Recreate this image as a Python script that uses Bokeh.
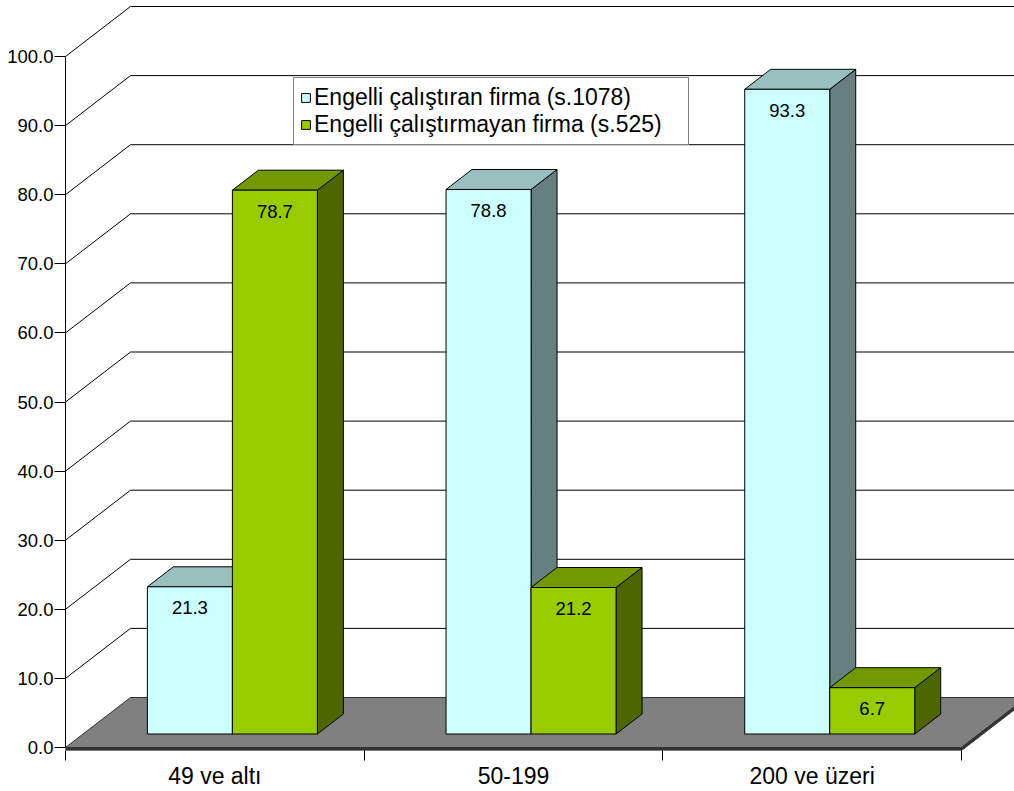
from bokeh.plotting import figure
from bokeh.models import FixedTicker, PrintfTickFormatter, Legend, LegendItem, Range1d
from bokeh.core.properties import value
from bokeh.embed import file_html
from bokeh.resources import INLINE

# ---------------- data ----------------
categories = ["49 ve altı", "50-199", "200 ve üzeri"]
series_names = ["Engelli çalıştıran firma (s.1078)", "Engelli çalıştırmayan firma (s.525)"]
employing = [21.3, 78.8, 93.3]
not_employing = [78.7, 21.2, 6.7]
y_ticks = [0, 10, 20, 30, 40, 50, 60, 70, 80, 90, 100]

# ---------------- layout / style ----------------
W, H = 1014, 791
BORDER_LEFT, BORDER_BOTTOM = 65, 41
PX_PER_CAT = 298.67
PX_PER_UNIT = 6.91
ZERO_ABOVE_BOTTOM_PX = 3
DX = 65 / PX_PER_CAT          # depth offset (x, category units)
DY = 50 / PX_PER_UNIT         # depth offset (y, value units)
BAR_W = 85 / PX_PER_CAT
D_FRONT, D_BACK = 0.27, 0.67
FLOOR_T = 3 / PX_PER_UNIT
FONT = "Liberation Sans"

colors = [
    dict(front="#CCFFFF", top="#99BFBF", side="#668080"),
    dict(front="#99CC00", top="#739900", side="#4D6600"),
]


def proj(c, d, v):
    return c + d * DX, v + d * DY


def poly(points):
    xs, ys = zip(*[proj(*pt) for pt in points])
    return list(xs), list(ys)


n = len(categories)
y_start = -ZERO_ABOVE_BOTTOM_PX / PX_PER_UNIT
y_end = y_start + (H - BORDER_BOTTOM) / PX_PER_UNIT
x_end = (W - BORDER_LEFT) / PX_PER_CAT

p = figure(width=W, height=H, output_backend="svg", toolbar_location=None,
           x_range=Range1d(0, x_end), y_range=Range1d(y_start, y_end),
           min_border_left=BORDER_LEFT, min_border_right=0, min_border_top=0,
           min_border_bottom=BORDER_BOTTOM)
p.outline_line_color = None
p.xgrid.visible = False
p.ygrid.visible = False
p.background_fill_color = "white"
p.border_fill_color = "white"

# ---- gridlines: left wall diagonals + back wall horizontals ----
gx, gy = [], []
for v in y_ticks[1:]:
    xs, ys = poly([(0, 0, v), (0, 1, v), (n, 1, v)])
    gx.append(xs)
    gy.append(ys)
p.multi_line(gx, gy, line_color="black", line_width=1)

# ---- floor ----
fx, fy = poly([(0, 0, 0), (n, 0, 0), (n, 1, 0), (0, 1, 0)])
p.patch(fx, fy, fill_color="#808080", line_color="#333333", line_width=1)
sx, sy = poly([(0, 0, 0), (n, 0, 0), (n, 0, -FLOOR_T), (0, 0, -FLOOR_T)])
p.patch(sx, sy, fill_color="#333333", line_color="#333333", line_width=1)
rx, ry = poly([(n, 0, 0), (n, 1, 0), (n, 1, -FLOOR_T), (n, 0, -FLOOR_T)])
p.patch(rx, ry, fill_color="#333333", line_color="#333333", line_width=1)

# ---- bars ----
fronts = []
label_x, label_y, label_t = [], [], []
for si, vals in enumerate([employing, not_employing]):
    col = colors[si]
    side_xs, side_ys, top_xs, top_ys = [], [], [], []
    ql, qr, qb, qt = [], [], [], []
    for ci, v in enumerate(vals):
        left = ci + 0.5 - BAR_W + si * BAR_W
        right = left + BAR_W
        xs, ys = poly([(right, D_FRONT, 0), (right, D_BACK, 0), (right, D_BACK, v), (right, D_FRONT, v)])
        side_xs.append(xs); side_ys.append(ys)
        xs, ys = poly([(left, D_FRONT, v), (right, D_FRONT, v), (right, D_BACK, v), (left, D_BACK, v)])
        top_xs.append(xs); top_ys.append(ys)
        l, b = proj(left, D_FRONT, 0)
        r, t = proj(right, D_FRONT, v)
        ql.append(l); qr.append(r); qb.append(b); qt.append(t)
        label_x.append((l + r) / 2)
        label_y.append(t - 21 / PX_PER_UNIT)
        label_t.append(f"{v:.1f}")
    p.patches(side_xs, side_ys, fill_color=col["side"], line_color="black", line_width=1)
    p.patches(top_xs, top_ys, fill_color=col["top"], line_color="black", line_width=1)
    fr = p.quad(left=ql, right=qr, bottom=qb, top=qt, fill_color=col["front"],
                line_color="black", line_width=1)
    fronts.append(fr)

p.text(x=label_x, y=label_y, text=label_t, text_align="center", text_baseline="middle",
       text_font=value(FONT), text_font_size="18.5px", text_color="black")

# ---- axes ----
ya = p.yaxis[0]
ya.ticker = FixedTicker(ticks=y_ticks)
ya.formatter = PrintfTickFormatter(format="%.1f")
ya.bounds = (0, 100)
ya.major_tick_out = 11
ya.major_tick_in = 0
ya.minor_tick_out = 0
ya.minor_tick_in = 0
ya.major_label_standoff = 1
ya.major_label_text_font = FONT
ya.major_label_text_font_size = "18.5px"
ya.major_label_text_color = "black"
ya.axis_line_color = "black"
ya.major_tick_line_color = "black"

xa = p.xaxis[0]
xa.ticker = FixedTicker(ticks=[i + 0.5 for i in range(n)], minor_ticks=list(range(n + 1)))
xa.major_label_overrides = {i + 0.5: c for i, c in enumerate(categories)}
xa.major_tick_out = 0
xa.major_tick_in = 0
xa.minor_tick_out = 10
xa.minor_tick_in = 0
xa.minor_tick_line_color = "black"
xa.axis_line_color = None
xa.major_label_standoff = 2
xa.major_label_text_font = FONT
xa.major_label_text_font_size = "23px"
xa.major_label_text_color = "black"

# ---- legend ----
legend = Legend(items=[LegendItem(label=series_names[i], renderers=[fronts[i]]) for i in range(2)],
                location=(228, 605))
legend.label_text_font = FONT
legend.label_text_font_size = "23px"
legend.label_text_color = "black"
legend.glyph_width = 11
legend.glyph_height = 11
legend.label_standoff = 3
legend.label_height = 24
legend.label_width = 368
legend.padding = 6
legend.spacing = 0
legend.margin = 0
legend.border_line_color = "black"
legend.border_line_width = 1
legend.background_fill_color = "white"
legend.background_fill_alpha = 1
p.add_layout(legend)

open("out.html", "w").write(file_html(p, INLINE))
